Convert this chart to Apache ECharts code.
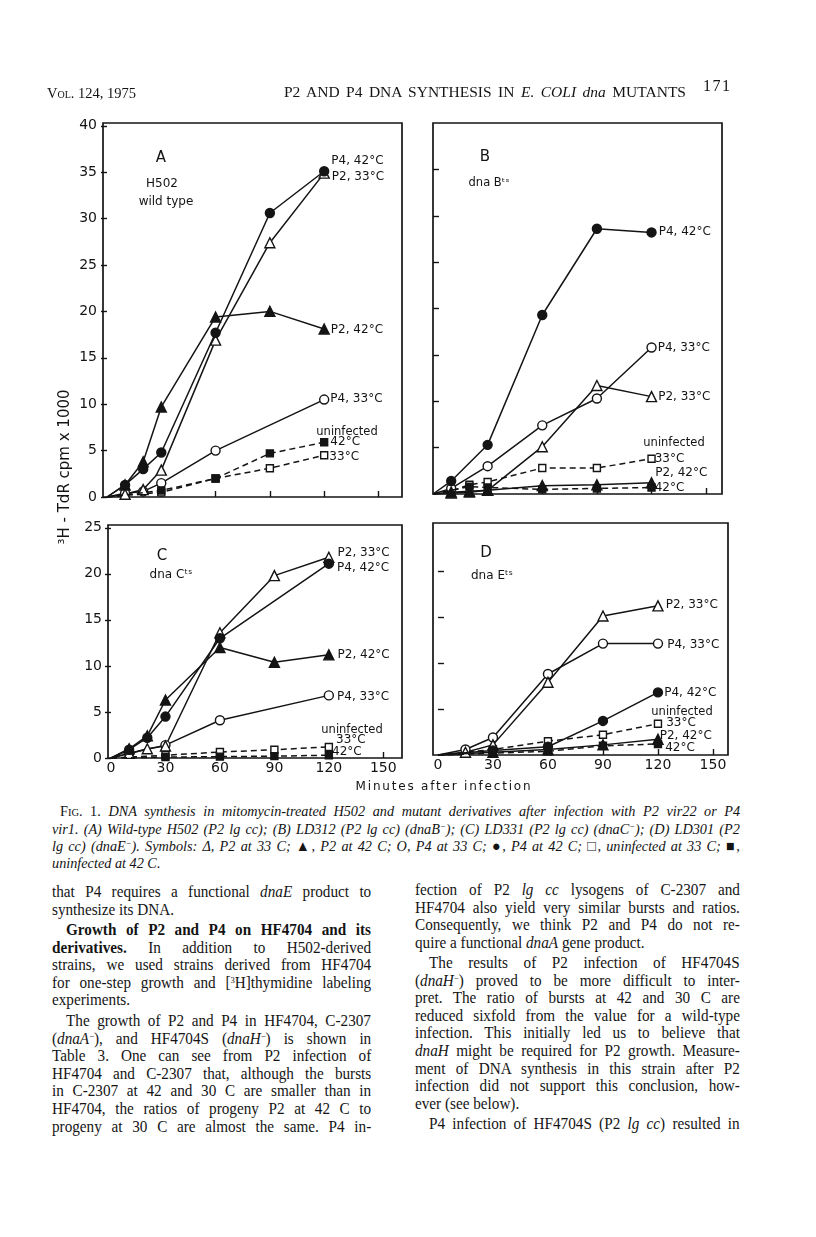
<!DOCTYPE html>
<html><head><meta charset="utf-8">
<script src="https://cdn.jsdelivr.net/npm/echarts@6/dist/echarts.min.js"></script>
<style>
html,body{margin:0;padding:0;background:#fff;}
#page{position:relative;width:816px;height:1237px;overflow:hidden;background:#fff;}
#chart{position:absolute;left:0;top:0;width:816px;height:800px;}
.t{position:absolute;font-family:"Liberation Serif","Times New Roman",serif;color:#141414;white-space:nowrap;transform-origin:0 0;}
.j{text-align:justify;text-align-last:justify;}
.cap{font-size:15px;line-height:18px;font-style:italic;transform:scaleX(0.95);}
.bd{font-size:16px;line-height:18px;transform:scaleX(0.95);}
sup{font-size:9px;line-height:0;vertical-align:5px;}
.sc{font-variant:small-caps;font-style:normal;}
#xt{position:absolute;left:300px;width:288px;top:779px;text-align:center;font-family:"DejaVu Sans";font-size:12px;letter-spacing:1.8px;color:#141414;}
</style></head><body>
<div id="page">
<div id="chart"></div>

<div class="t" style="left:47px;top:85px;font-size:14.5px;"><span style="font-variant:small-caps">Vol.</span> 124, 1975</div>
<div class="t j" style="left:284px;top:83px;width:402px;font-size:15.5px;">P2 AND P4 DNA SYNTHESIS IN <i>E. COLI dna</i> MUTANTS</div>
<div class="t" style="left:703px;top:77px;font-size:16px;letter-spacing:1.5px;">171</div>

<div id="xt">Minutes after infection</div>

<div class="t j cap" style="left:60px;top:802px;width:716px;"><span class="sc">Fig. 1.</span> DNA synthesis in mitomycin-treated H502 and mutant derivatives after infection with P2 vir22 or P4</div>
<div class="t j cap" style="left:52px;top:820px;width:724px;">vir1. (A) Wild-type H502 (P2 lg cc); (B) LD312 (P2 lg cc) (dnaB<sup>−</sup>); (C) LD331 (P2 lg cc) (dnaC<sup>−</sup>); (D) LD301 (P2</div>
<div class="t j cap" style="left:52px;top:837px;width:724px;">lg cc) (dnaE<sup>−</sup>). Symbols: Δ, P2 at 33 C; ▲, P2 at 42 C; O, P4 at 33 C; ●, P4 at 42 C; □, uninfected at 33 C; ■,</div>
<div class="t cap" style="left:52px;top:854px;">uninfected at 42 C.</div>

<div class="t j bd" style="left:52px;top:883px;width:336px;">that P4 requires a functional <i>dnaE</i> product to</div>
<div class="t bd" style="left:52px;top:900.6px;">synthesize its DNA.</div>
<div class="t j bd" style="left:66px;top:921px;width:321px;"><b>Growth of P2 and P4 on HF4704 and its</b></div>
<div class="t j bd" style="left:52px;top:938.6px;width:336px;"><b>derivatives.</b> In addition to H502-derived</div>
<div class="t j bd" style="left:52px;top:956.2px;width:336px;">strains, we used strains derived from HF4704</div>
<div class="t j bd" style="left:52px;top:973.8px;width:336px;">for one-step growth and [<sup>3</sup>H]thymidine labeling</div>
<div class="t bd" style="left:52px;top:991.4px;">experiments.</div>
<div class="t j bd" style="left:66px;top:1012px;width:321px;">The growth of P2 and P4 in HF4704, C-2307</div>
<div class="t j bd" style="left:52px;top:1029.6px;width:336px;">(<i>dnaA</i><sup>−</sup>), and HF4704S (<i>dnaH</i><sup>−</sup>) is shown in</div>
<div class="t j bd" style="left:52px;top:1047.2px;width:336px;">Table 3. One can see from P2 infection of</div>
<div class="t j bd" style="left:52px;top:1064.8px;width:336px;">HF4704 and C-2307 that, although the bursts</div>
<div class="t j bd" style="left:52px;top:1082.4px;width:336px;">in C-2307 at 42 and 30 C are smaller than in</div>
<div class="t j bd" style="left:52px;top:1100px;width:336px;">HF4704, the ratios of progeny P2 at 42 C to</div>
<div class="t j bd" style="left:52px;top:1117.6px;width:336px;">progeny at 30 C are almost the same. P4 in-</div>

<div class="t j bd" style="left:415px;top:881px;width:342px;">fection of P2 <i>lg cc</i> lysogens of C-2307 and</div>
<div class="t j bd" style="left:415px;top:898.6px;width:342px;">HF4704 also yield very similar bursts and ratios.</div>
<div class="t j bd" style="left:415px;top:916.2px;width:342px;">Consequently, we think P2 and P4 do not re-</div>
<div class="t bd" style="left:415px;top:933.8px;">quire a functional <i>dnaA</i> gene product.</div>
<div class="t j bd" style="left:429px;top:954px;width:327px;">The results of P2 infection of HF4704S</div>
<div class="t j bd" style="left:415px;top:971.6px;width:342px;">(<i>dnaH</i><sup>−</sup>) proved to be more difficult to inter-</div>
<div class="t j bd" style="left:415px;top:989.2px;width:342px;">pret. The ratio of bursts at 42 and 30 C are</div>
<div class="t j bd" style="left:415px;top:1006.8px;width:342px;">reduced sixfold from the value for a wild-type</div>
<div class="t j bd" style="left:415px;top:1024.4px;width:342px;">infection. This initially led us to believe that</div>
<div class="t j bd" style="left:415px;top:1042px;width:342px;"><i>dnaH</i> might be required for P2 growth. Measure-</div>
<div class="t j bd" style="left:415px;top:1059.6px;width:342px;">ment of DNA synthesis in this strain after P2</div>
<div class="t j bd" style="left:415px;top:1077.2px;width:342px;">infection did not support this conclusion, how-</div>
<div class="t bd" style="left:415px;top:1094.8px;">ever (see below).</div>
<div class="t j bd" style="left:429px;top:1115px;width:327px;">P4 infection of HF4704S (P2 <i>lg cc</i>) resulted in</div>
</div>

<script>
// ---- tick values ----
const xTickVals = [30, 60, 90, 120, 150];
const xLabelVals = [0, 30, 60, 90, 120, 150];
const yTicksA = [0, 5, 10, 15, 20, 25, 30, 35, 40];
const yTicksB = [5, 10, 15, 20, 25, 30, 35];
const yTicksC = [0, 5, 10, 15, 20, 25];
const yTicksD = [5, 10, 15, 20];

// ---- Panel A: H502 wild type ----
const A_P2_33 = [[0,0],[10,0.3],[20,0.8],[30,2.9],[60,16.9],[90,27.4],[120,34.9]];
const A_P2_42 = [[0,0],[10,1.3],[20,3.8],[30,9.7],[60,19.4],[90,20.0],[120,18.1]];
const A_P4_33 = [[0,0],[10,0.4],[20,0.6],[30,1.5],[60,5.0],[120,10.5]];
const A_P4_42 = [[0,0],[10,1.3],[20,3.0],[30,4.8],[60,17.7],[90,30.6],[120,35.1]];
const A_U33 = [[0,0],[30,0.5],[60,2.0],[90,3.1],[120,4.5]];
const A_U42 = [[0,0],[30,0.7],[60,2.0],[90,4.7],[120,5.9]];

// ---- Panel B: dnaB ts ----
const B_P2_33 = [[0,0],[10,0.1],[20,0.2],[30,0.4],[60,5.1],[90,11.7],[120,10.5]];
const B_P2_42 = [[0,0],[10,0.2],[20,0.3],[30,0.4],[60,0.9],[90,1.0],[120,1.2]];
const B_P4_33 = [[0,0],[10,0.6],[30,3.0],[60,7.4],[90,10.3],[120,15.8]];
const B_P4_42 = [[0,0],[10,1.4],[30,5.3],[60,19.3],[90,28.6],[120,28.2]];
const B_U33 = [[0,0],[10,0.3],[20,1.0],[30,1.3],[60,2.8],[90,2.8],[120,3.8]];
const B_U42 = [[0,0],[20,0.8],[30,0.7],[60,0.5],[90,0.6],[120,0.7]];

// ---- Panel C: dnaC ts ----
const C_P2_33 = [[0,0],[10,0.5],[20,1.0],[30,1.3],[60,13.6],[90,19.8],[120,21.8]];
const C_P2_42 = [[0,0],[10,1.0],[20,2.4],[30,6.3],[60,12.0],[90,10.4],[120,11.2]];
const C_P4_33 = [[0,0],[10,0.5],[30,1.4],[60,4.1],[120,6.8]];
const C_P4_42 = [[0,0],[10,0.9],[20,2.2],[30,4.5],[60,13.0],[120,21.1]];
const C_U33 = [[0,0],[30,0.3],[60,0.65],[90,0.9],[120,1.2]];
const C_U42 = [[0,0],[30,0.1],[60,0.15],[90,0.2],[120,0.3]];

// ---- Panel D: dnaE ts ----
const D_P2_33 = [[0,0],[15,0.3],[30,1.1],[60,7.9],[90,15.1],[120,16.2]];
const D_P2_42 = [[0,0],[30,0.3],[60,0.6],[90,1.1],[120,1.7]];
const D_P4_33 = [[0,0],[15,0.6],[30,1.9],[60,8.8],[90,12.1],[120,12.1]];
const D_P4_42 = [[0,0],[30,0.5],[60,0.9],[90,3.7],[120,6.8]];
const D_U33 = [[0,0],[30,0.6],[60,1.5],[90,2.2],[120,3.4]];
const D_U42 = [[0,0],[30,0.2],[60,0.4],[90,1.0],[120,1.2]];

const INK = '#141414';
const SANS = 'DejaVu Sans';

function mk(g, data, sym, filled, dashed, text, off) {
  const n = data.length;
  const d = data.map((p, i) => {
    if (i === 0) return { value: p, symbol: 'none' };
    if (i === n - 1 && text) {
      return { value: p, label: { show: true, formatter: text, position: 'right', distance: 2, offset: off,
        fontFamily: SANS, fontSize: 12, color: INK } };
    }
    return p;
  });
  return {
    type: 'line', xAxisIndex: g, yAxisIndex: g, data: d, clip: false,
    symbol: sym, symbolSize: sym === 'rect' ? 7 : (sym === 'triangle' ? 10 : 9),
    lineStyle: { color: INK, width: 1.5, type: dashed ? [6, 4] : 'solid' },
    itemStyle: { color: filled ? INK : '#fff', borderColor: INK, borderWidth: 1.4 },
    label: { show: false }, emphasis: { disabled: true }, silent: true, z: filled ? 4 : 3
  };
}

function xAx(g, min, max, labels) {
  return { type: 'value', gridIndex: g, min: min, max: max,
    axisLine: { show: false }, splitLine: { show: false },
    axisTick: { show: true, inside: true, length: 6, customValues: xTickVals, lineStyle: { color: INK, width: 1.4 } },
    axisLabel: { show: labels, customValues: xLabelVals, margin: 3, fontFamily: SANS, fontSize: 14, color: INK } };
}
function yAx(g, max, ticks, inside, labels) {
  return { type: 'value', gridIndex: g, min: 0, max: max,
    axisLine: { show: false }, splitLine: { show: false },
    axisTick: { show: true, inside: inside, length: 6, customValues: ticks, lineStyle: { color: INK, width: 1.4 } },
    axisLabel: { show: labels, customValues: ticks, margin: 6, fontFamily: SANS, fontSize: 14, color: INK } };
}
const gridStyle = { show: true, borderColor: INK, borderWidth: 1.7, backgroundColor: 'transparent' };

function txt(x, y, s, size, rot) {
  return { type: 'text', x: x, y: y, rotation: rot || 0, silent: true,
    style: { text: s, fill: INK, fontFamily: SANS, fontSize: size,
      align: 'center', verticalAlign: 'middle', textAlign: 'center', textVerticalAlign: 'middle' } };
}

const chart = echarts.init(document.getElementById('chart'), null, { renderer: 'canvas' });
chart.setOption({
  animation: false,
  grid: [
    Object.assign({ left: 103, top: 123, width: 299, height: 374 }, gridStyle),
    Object.assign({ left: 433, top: 123, width: 289, height: 371 }, gridStyle),
    Object.assign({ left: 108, top: 525, width: 294, height: 233 }, gridStyle),
    Object.assign({ left: 433, top: 523, width: 295, height: 232 }, gridStyle)
  ],
  xAxis: [
    xAx(0, -2.2, 163, false),
    xAx(1, 0, 158.7, false),
    xAx(2, -1.65, 160.3, true),
    xAx(3, -2.7, 158.2, true)
  ],
  yAxis: [
    yAx(0, 40.3, yTicksA, false, true),
    yAx(1, 40.0, yTicksB, true, false),
    yAx(2, 25.3, yTicksC, false, true),
    yAx(3, 25.2, yTicksD, true, false)
  ],
  series: [
    mk(0, A_U33, 'rect', false, true, '33°C', [-1, 2]),
    mk(0, A_U42, 'rect', true, true, '42°C', [0, 0]),
    mk(0, A_P4_33, 'circle', false, false, 'P4, 33°C', [-1, -1]),
    mk(0, A_P2_33, 'triangle', false, false, 'P2, 33°C', [0, 4]),
    mk(0, A_P2_42, 'triangle', true, false, 'P2, 42°C', [-1, 1]),
    mk(0, A_P4_42, 'circle', true, false, 'P4, 42°C', [0, -10]),

    mk(1, B_U33, 'rect', false, true, '33°C', [-3, 0]),
    mk(1, B_U42, 'rect', true, true, '42°C', [-3, 0]),
    mk(1, B_P2_42, 'triangle', true, false, 'P2, 42°C', [-4, -10]),
    mk(1, B_P4_33, 'circle', false, false, 'P4, 33°C', [-1, 0]),
    mk(1, B_P2_33, 'triangle', false, false, 'P2, 33°C', [-1, 0]),
    mk(1, B_P4_42, 'circle', true, false, 'P4, 42°C', [0, -1]),

    mk(2, C_U33, 'rect', false, true, '33°C', [1, -7]),
    mk(2, C_U42, 'rect', true, true, '42°C', [-3, -3]),
    mk(2, C_P4_33, 'circle', false, false, 'P4, 33°C', [1, 1]),
    mk(2, C_P2_42, 'triangle', true, false, 'P2, 42°C', [1, 0]),
    mk(2, C_P2_33, 'triangle', false, false, 'P2, 33°C', [1, -4]),
    mk(2, C_P4_42, 'circle', true, false, 'P4, 42°C', [1, 4]),

    mk(3, D_U33, 'rect', false, true, '33°C', [2, -1]),
    mk(3, D_U42, 'rect', true, true, '42°C', [1, 4]),
    mk(3, D_P2_42, 'triangle', true, false, 'P2, 42°C', [-6, -3]),
    mk(3, D_P4_42, 'circle', true, false, 'P4, 42°C', [-1, 0]),
    mk(3, D_P4_33, 'circle', false, false, 'P4, 33°C', [2, 1]),
    mk(3, D_P2_33, 'triangle', false, false, 'P2, 33°C', [0, -1])
  ],
  graphic: [
    txt(161, 158, 'A', 15), txt(162, 184, 'H502', 12), txt(166, 202, 'wild type', 12),
    txt(347, 432, 'uninfected', 11.5),
    txt(485, 157, 'B', 15), txt(489, 183, 'dna Bᵗˢ', 11.5),
    txt(674, 443, 'uninfected', 11.5),
    txt(162, 556, 'C', 15), txt(171, 575, 'dna Cᵗˢ', 12),
    txt(352, 730, 'uninfected', 11.5),
    txt(486, 553, 'D', 15), txt(492, 576, 'dna Eᵗˢ', 12),
    txt(682, 712, 'uninfected', 11.5),
    txt(65, 467, '³H - TdR cpm x 1000', 15, Math.PI / 2)
  ]
});
</script>
</body></html>
